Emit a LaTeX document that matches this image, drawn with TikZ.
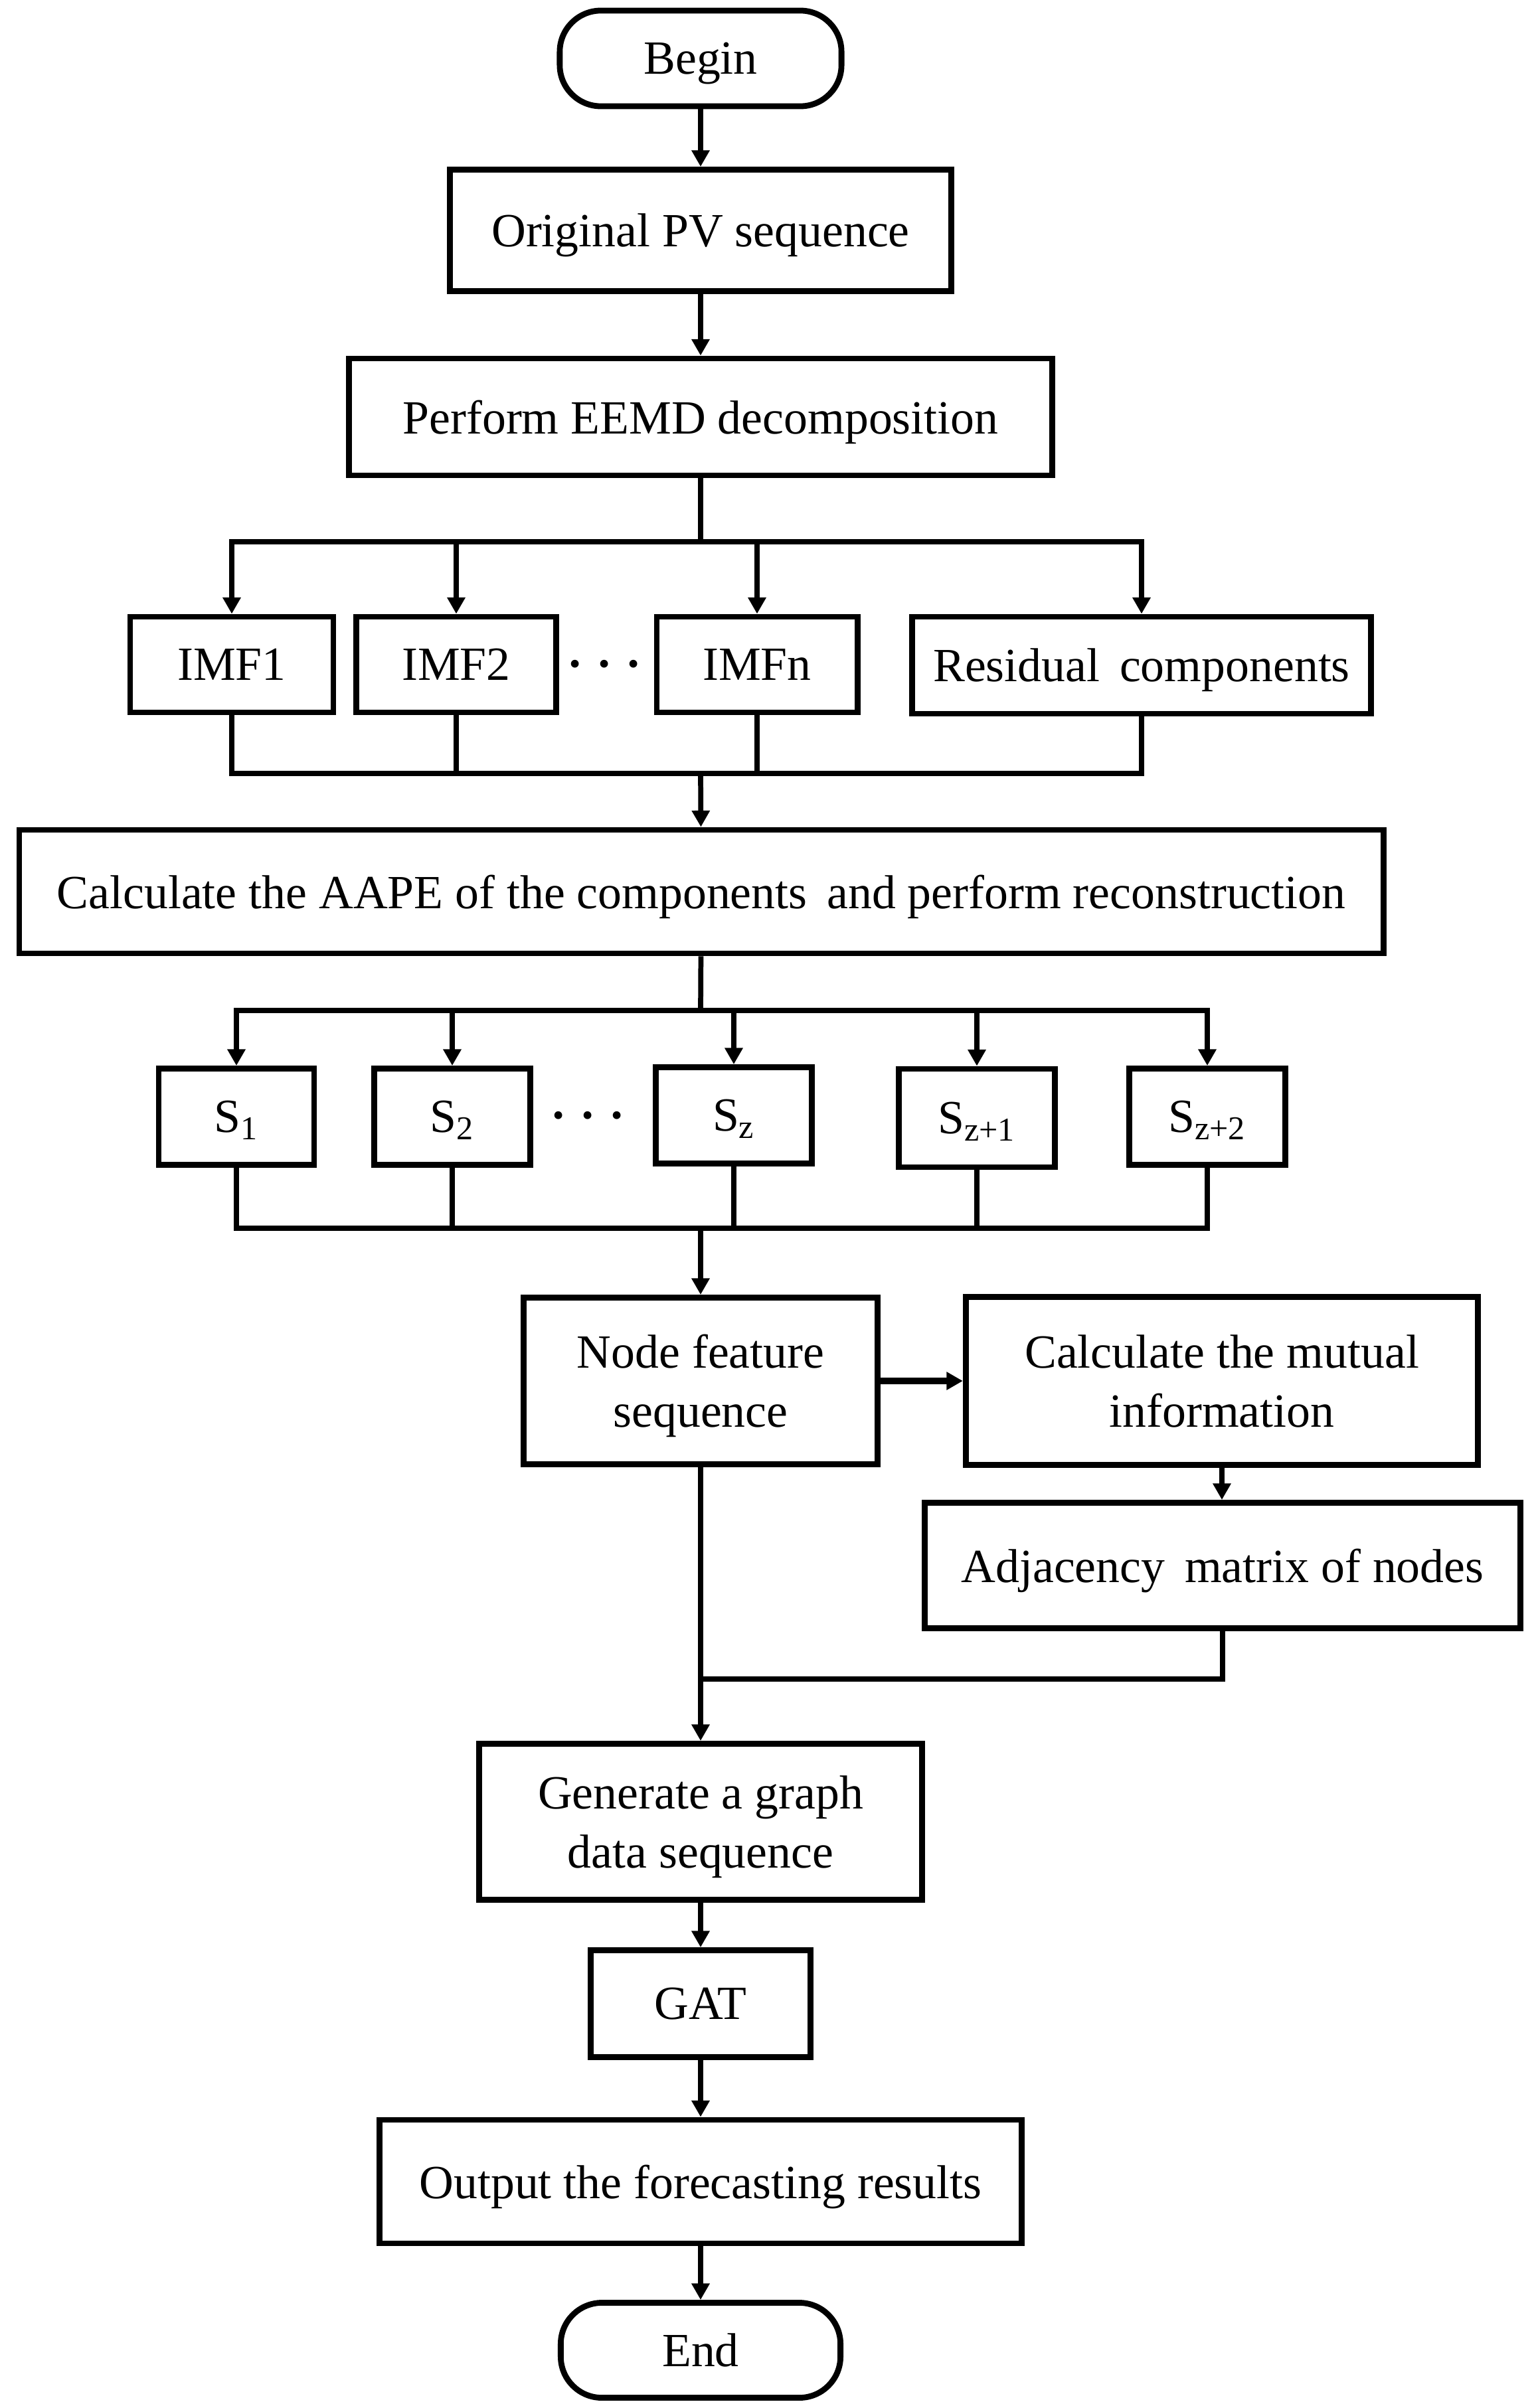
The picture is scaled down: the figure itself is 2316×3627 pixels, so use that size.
\documentclass[tikz,border=0pt]{standalone}
\usepackage{fontspec}
\setmainfont{Liberation Serif}
\usetikzlibrary{arrows.meta}
\newcommand{\threedots}{{\fontsize{14}{14}\selectfont\textbullet\hspace{7.6pt}\textbullet\hspace{7.6pt}\textbullet}}
\begin{document}
\begin{tikzpicture}[x=0.01cm,y=-0.01cm,
  txt/.style={font=\fontsize{20.4}{25.3}\selectfont},
  box/.style={draw,line width=2.5pt,inner sep=0pt,align=center,text depth=0pt,txt},
  term/.style={box,rounded corners=0.62cm},
  ln/.style={line width=2.2pt},
  arr/.style={ln,-{Triangle[length=7pt,width=7.4pt]}},
  dotsn/.style={inner sep=0pt}]
\useasboundingbox (0,0) rectangle (2316,3627);
% nodes
\node[term,minimum width=4.24cm,minimum height=1.44cm] (begin) at (1055,88) {Begin};
\node[box,minimum width=7.54cm,minimum height=1.83cm] (orig) at (1055,347) {Original PV sequence};
\node[box,minimum width=10.59cm,minimum height=1.76cm] (eemd) at (1055,628) {Perform EEMD decomposition};
\node[box,minimum width=3.06cm,minimum height=1.44cm] (imf1) at (349,1001) {IMF1};
\node[box,minimum width=3.01cm,minimum height=1.44cm] (imf2) at (687,1001) {IMF2};
\node[box,minimum width=3.02cm,minimum height=1.44cm] (imfn) at (1140,1001) {IMFn};
\node[box,minimum width=6.91cm,minimum height=1.46cm] (resid) at (1719,1002) {Residual\, components};
\node[dotsn] (dots1) at (910,1005) {\threedots};
\node[box,minimum width=20.53cm,minimum height=1.86cm] (aape) at (1056,1343) {Calculate the AAPE of the components\, and perform reconstruction};
\node[box,minimum width=2.34cm,minimum height=1.45cm] (s1) at (356,1682) {S\textsubscript{1}};
\node[box,minimum width=2.35cm,minimum height=1.45cm] (s2) at (681,1682) {S\textsubscript{2}};
\node[box,minimum width=2.35cm,minimum height=1.45cm] (sz) at (1105,1680) {S\textsubscript{z}};
\node[box,minimum width=2.35cm,minimum height=1.48cm] (sz1) at (1471,1684) {S\textsubscript{z+1}};
\node[box,minimum width=2.35cm,minimum height=1.45cm] (sz2) at (1818,1682) {S\textsubscript{z+2}};
\node[dotsn] (dots2) at (885,1685) {\threedots};
\node[box,minimum width=5.32cm,minimum height=2.51cm] (nodef) at (1055,2080) {Node feature\\sequence};
\node[box,minimum width=7.71cm,minimum height=2.53cm] (calc) at (1840,2080) {Calculate the mutual\\information};
\node[box,minimum width=8.96cm,minimum height=1.89cm] (adj) at (1841,2358) {Adjacency\, matrix of nodes};
\node[box,minimum width=6.67cm,minimum height=2.35cm] (gen) at (1055,2744) {Generate a graph\\data sequence};
\node[box,minimum width=3.31cm,minimum height=1.61cm] (gat) at (1055,3018) {GAT};
\node[box,minimum width=9.66cm,minimum height=1.86cm] (out) at (1055,3286) {Output the forecasting results};
\node[term,minimum width=4.21cm,minimum height=1.43cm] (end) at (1055,3540) {End};
% bus coordinates
\coordinate (b1) at (1055,816);
\coordinate (b2) at (1055,1165);
\coordinate (b3) at (1055,1522);
\coordinate (b4) at (1055,1850);
\coordinate (j1) at (1055,2529);
% connectors
\draw[arr] (begin) -- (orig);
\draw[arr] (orig) -- (eemd);
\draw[ln] (eemd) -- (b1);
\draw[ln,line cap=rect] (imf1.north|-b1) -- (resid.north|-b1);
\foreach \n in {imf1,imf2,imfn,resid} \draw[arr] (\n.north|-b1) -- (\n);
\foreach \n in {imf1,imf2,imfn,resid} \draw[ln] (\n) -- (\n.south|-b2);
\draw[ln,line cap=rect] (imf1.south|-b2) -- (resid.south|-b2);
\draw[arr] (b2) -- (aape);
\draw[ln] (aape) -- (b3);
\draw[ln,line cap=rect] (s1.north|-b3) -- (sz2.north|-b3);
\foreach \n in {s1,s2,sz,sz1,sz2} \draw[arr] (\n.north|-b3) -- (\n);
\foreach \n in {s1,s2,sz,sz1,sz2} \draw[ln] (\n) -- (\n.south|-b4);
\draw[ln,line cap=rect] (s1.south|-b4) -- (sz2.south|-b4);
\draw[arr] (b4) -- (nodef);
\draw[arr,line width=2.8pt] (nodef) -- (calc);
\draw[arr] (calc) -- (calc.south|-adj.north);
\draw[ln] (adj) |- (j1);
\draw[arr] (nodef) -- (gen);
\draw[arr] (gen) -- (gat);
\draw[arr] (gat) -- (out);
\draw[arr] (out) -- (end);
\end{tikzpicture}
\end{document}
